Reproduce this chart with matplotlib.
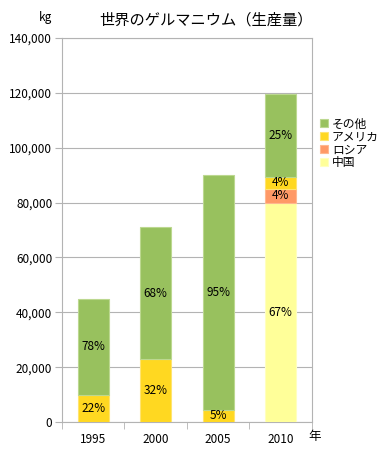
import matplotlib.pyplot as plt
import numpy as np

plt.rcParams['font.family'] = ['Noto Sans CJK JP', 'DejaVu Sans']

years = ['1995', '2000', '2005', '2010']
china = [0, 0, 0, 80000]
russia = [0, 0, 0, 5000]
usa = [10000, 23000, 4500, 4500]
other = [35000, 48000, 85500, 30000]

series = [('中国', china, '#FFFF99', '#FFFFC0'),
          ('ロシア', russia, '#FF9966', '#FFB890'),
          ('アメリカ', usa, '#FFD821', '#FFE470'),
          ('その他', other, '#98C15E', '#BCD890')]

fig = plt.figure(figsize=(3.85, 4.54), dpi=100)
ax = fig.add_axes([0.161, 0.0705, 0.649, 0.8455])

x = np.arange(len(years))
totals = np.sum([s[1] for s in series], axis=0)
bottom = np.zeros(len(years))
handles = []
for name, vals, col, ec in series:
    vals = np.array(vals, dtype=float)
    b = ax.bar(x, vals, 0.5, bottom=bottom, color=col, edgecolor=ec, linewidth=0.8, label=name, zorder=3)
    handles.append(b)
    for i, v in enumerate(vals):
        if v > 0:
            ax.text(x[i], bottom[i] + v / 2, '%d%%' % round(v / totals[i] * 100),
                    ha='center', va='center', fontsize=8.5, zorder=4)
    bottom += vals

ax.set_xlim(-0.5, 3.5)
ax.set_ylim(0, 140000)
ax.set_yticks(np.arange(0, 140001, 20000))
ax.set_yticklabels(['{:,}'.format(v) for v in range(0, 140001, 20000)], fontsize=8.5)
ax.set_xticks(x)
ax.set_xticklabels(years, fontsize=8.5)
ax.set_xticks(np.arange(-0.5, 3.6, 1), minor=True)
ax.tick_params(axis='x', which='major', length=0, pad=8)
ax.tick_params(axis='x', which='minor', length=5, color='#B3B3B3', direction='out')
ax.tick_params(axis='y', length=5, color='#B3B3B3', pad=2)
ax.grid(axis='y', color='#B3B3B3', linewidth=0.8, zorder=0)
for sp in ax.spines.values():
    sp.set_color('#B3B3B3')
    sp.set_linewidth(0.8)

fig.text(0.117, 0.962, 'kg', fontsize=8.5, ha='center', va='center')
fig.text(0.535, 0.955, '世界のゲルマニウム（生産量）', fontsize=11, ha='center', va='center')
fig.text(0.818, 0.038, '年', fontsize=9, ha='center', va='center')

ax.legend(handles[::-1], [s[0] for s in series][::-1], loc='upper left',
          bbox_to_anchor=(1.0, 0.815), frameon=False, fontsize=8.5,
          handlelength=0.7, handleheight=0.7, handletextpad=0.3, labelspacing=0.0,
          borderaxespad=0.3)

fig.savefig('out.png', dpi=100)
